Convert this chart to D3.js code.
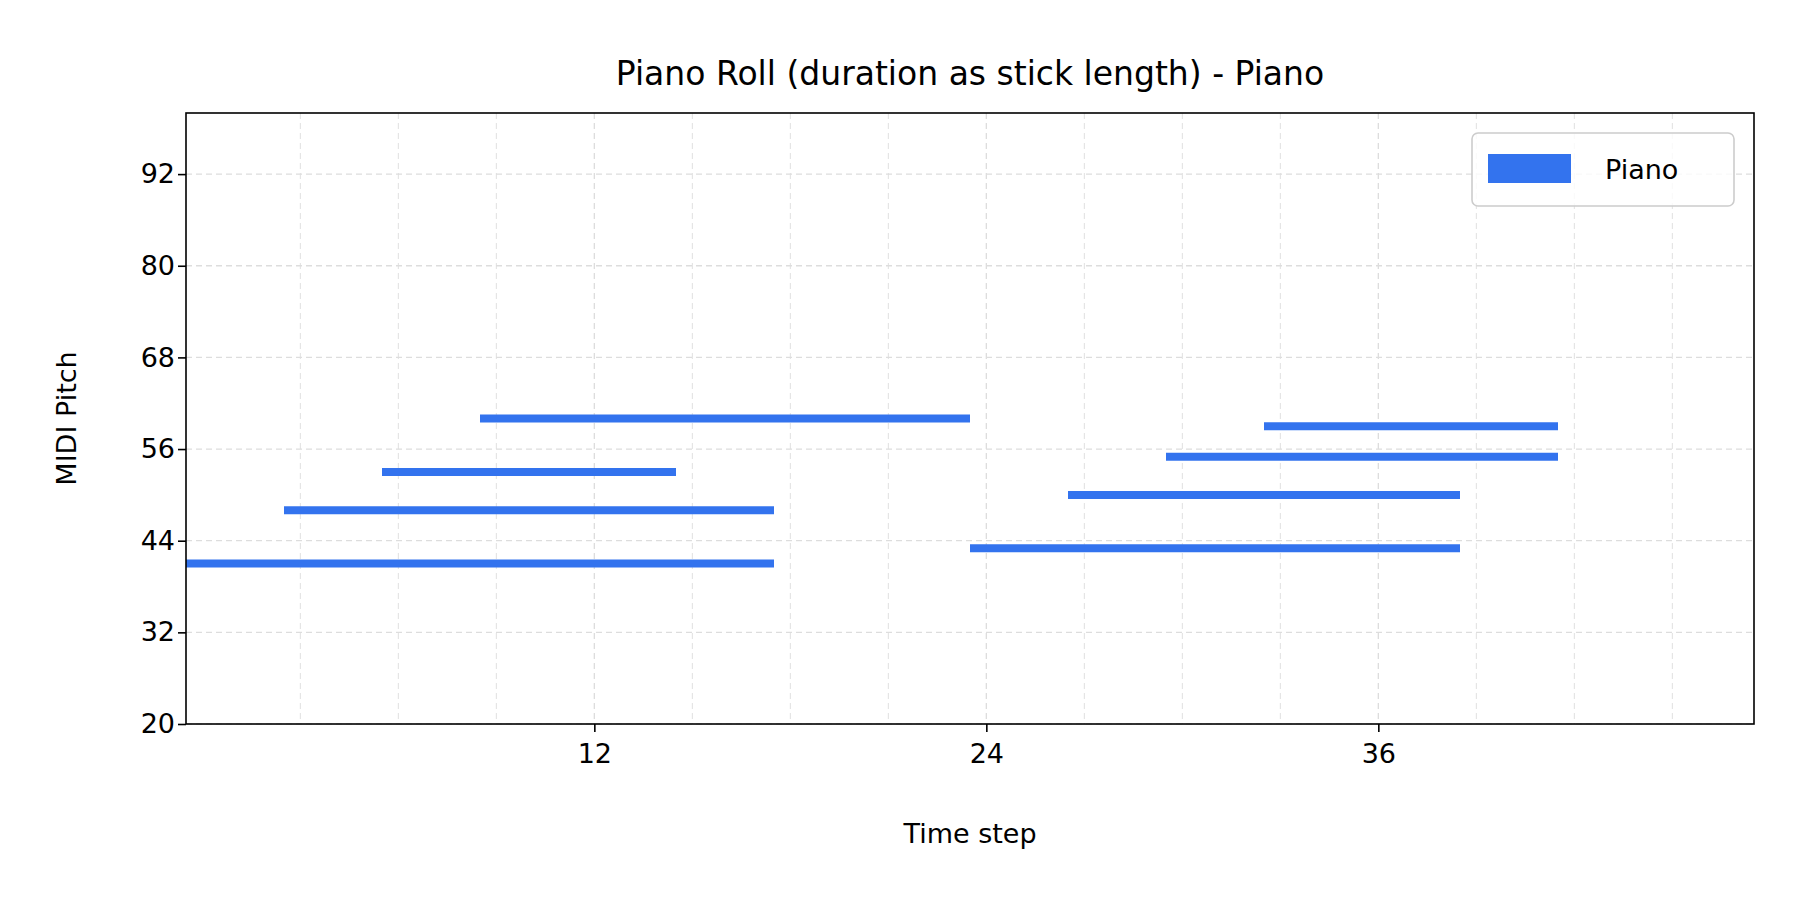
<!DOCTYPE html>
<html><head><meta charset="utf-8">
<script src="https://cdn.jsdelivr.net/npm/d3@7"></script>
<style>body{margin:0;background:#fff}text{font-family:"DejaVu Sans",sans-serif}</style>
</head><body>
<script>
const starts = [0, 3, 6, 9, 24, 27, 30, 33];
const durations = [18, 15, 9, 15, 15, 12, 12, 9];
const pitches = [41, 48, 53, 60, 43, 50, 55, 59];
const xTicks = [12, 24, 36];
const yTicks = [20, 32, 44, 56, 68, 80, 92];

const W = 1800, H = 900;
const m = {l: 186, r: 46, t: 113, b: 176};
const color = '#3373ee';

const svg = d3.select('body').append('svg').attr('width', W).attr('height', H);

const x = d3.scaleLinear().domain([-0.5, 47.5]).range([m.l, W - m.r]);
const y = d3.scaleLinear().domain([20, 100]).range([H - m.b, m.t]);

// grid
const minor = d3.range(3, 48, 3);
svg.append('g').selectAll('line').data(minor).enter().append('line')
  .attr('x1', d => x(d)).attr('x2', d => x(d))
  .attr('y1', m.t).attr('y2', H - m.b)
  .attr('stroke', '#ddd').attr('stroke-width', d => d % 12 === 0 ? 1.3 : 0.9)
  .attr('stroke-dasharray', '6,4');
svg.append('g').selectAll('line').data(yTicks).enter().append('line')
  .attr('x1', m.l).attr('x2', W - m.r)
  .attr('y1', d => y(d)).attr('y2', d => y(d))
  .attr('stroke', '#ddd').attr('stroke-width', 1.3).attr('stroke-dasharray', '6,4');

// notes
svg.append('g').selectAll('line').data(starts).enter().append('line')
  .attr('x1', d => x(d - 0.5)).attr('x2', (d, i) => x(d + durations[i] - 0.5))
  .attr('y1', (d, i) => y(pitches[i])).attr('y2', (d, i) => y(pitches[i]))
  .attr('stroke', color).attr('stroke-width', 8);

// axes
const xa = svg.append('g').attr('transform', `translate(0,${H - m.b})`)
  .call(d3.axisBottom(x).tickValues(xTicks).tickSize(8).tickSizeOuter(0));
const ya = svg.append('g').attr('transform', `translate(${m.l},0)`)
  .call(d3.axisLeft(y).tickValues(yTicks).tickSize(8).tickSizeOuter(0));
[xa, ya].forEach(a => {
  a.selectAll('text').attr('font-size', 27).attr('fill', '#000').attr('font-family', 'DejaVu Sans');
  a.selectAll('line').attr('stroke', '#000').attr('stroke-width', 1.6);
  a.select('.domain').remove();
});
xa.selectAll('text').attr('dy', '1.05em');
svg.append('rect').attr('x', m.l).attr('y', m.t).attr('width', W - m.r - m.l).attr('height', H - m.b - m.t)
  .attr('fill', 'none').attr('stroke', '#000').attr('stroke-width', 1.6);

// labels
svg.append('text').attr('x', (m.l + W - m.r) / 2).attr('y', 85).attr('text-anchor', 'middle')
  .attr('font-size', 33).text('Piano Roll (duration as stick length) - Piano');
svg.append('text').attr('x', (m.l + W - m.r) / 2).attr('y', 843).attr('text-anchor', 'middle')
  .attr('font-size', 27).text('Time step');
svg.append('text').attr('transform', `translate(76,${(m.t + H - m.b) / 2}) rotate(-90)`)
  .attr('text-anchor', 'middle').attr('font-size', 27).text('MIDI Pitch');

// legend
const lg = svg.append('g').attr('transform', 'translate(1472,133)');
lg.append('rect').attr('width', 262).attr('height', 73).attr('rx', 6)
  .attr('fill', '#fff').attr('fill-opacity', 0.8).attr('stroke', '#ccc').attr('stroke-width', 1.6);
lg.append('rect').attr('x', 16).attr('y', 21).attr('width', 83).attr('height', 29).attr('fill', color);
lg.append('text').attr('x', 133).attr('y', 46).attr('font-size', 27).text('Piano');
</script>
</body></html>
